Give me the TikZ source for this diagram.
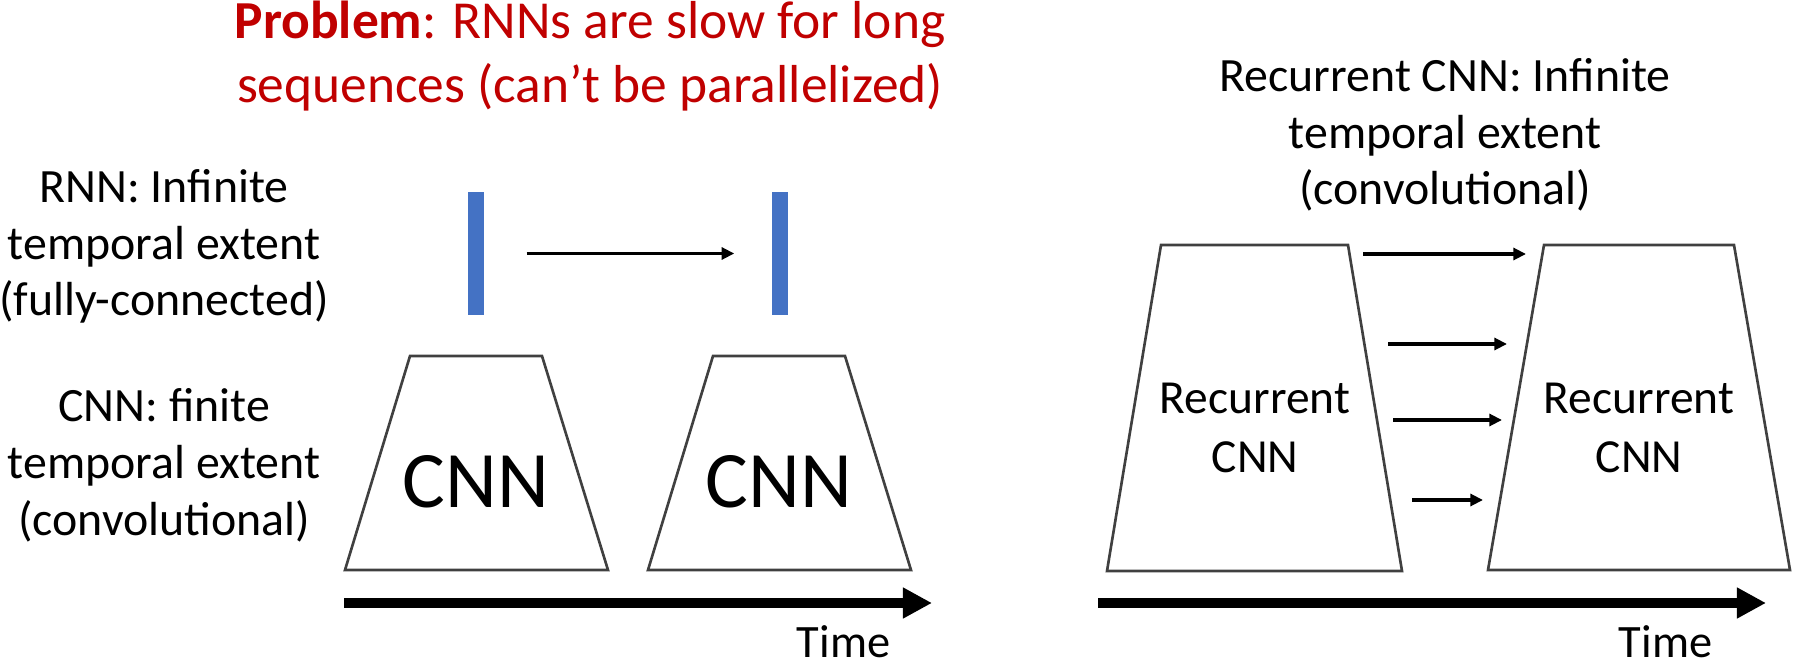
\documentclass[tikz,border=0pt]{standalone}
\usepackage{fontspec}
\setmainfont{Carlito}
\usetikzlibrary{arrows.meta}
\definecolor{probred}{RGB}{192,0,0}
\definecolor{rnnblue}{RGB}{68,114,196}
\definecolor{edgegray}{RGB}{64,64,64}

\begin{document}
\begin{tikzpicture}[x=0.01cm, y=-0.01cm,
  lab/.style={align=center, anchor=base, inner sep=0pt, font=\fontsize{13.6}{16.2}\selectfont},
  block/.style={draw=edgegray, line width=0.75pt, line join=miter},
  bar/.style={fill=rnnblue, minimum width=0.16cm, minimum height=1.23cm, inner sep=0pt},
  flow/.style={line width=1pt, -{Triangle[length=3.6pt, width=3.4pt]}},
  timeline/.style={line width=2.85pt, -{Triangle[length=8.3pt, width=8.3pt]}}]

% canvas in reference pixels, y grows downward
% (multi-line labels are placed by the baseline of their last line)
\useasboundingbox (0,0) rectangle (1793,664);

%% ── left panel: headline ─────────────────────────────────────────
\node[lab, text=probred, font=\fontsize{15.2}{18.2}\selectfont] (problem) at (590,103)
  {\textbf{Problem}: RNNs are slow for long\\sequences (can’t be parallelized)};

%% ── left panel: row labels ───────────────────────────────────────
\node[lab] (rnnlab) at (164,316) {RNN: Infinite\\temporal extent\\(fully-connected)};
\node[lab] (cnnlab) at (164,535) {CNN: finite\\temporal extent\\(convolutional)};

%% ── hidden states + recurrence ───────────────────────────────────
\node[bar] (h1) at (476,253.5) {};
\node[bar] (h2) at (780,253.5) {};
\draw[flow, shorten <=0.42cm, shorten >=0.37cm] (h1.east) -- (h2.west);

%% ── CNN blocks ───────────────────────────────────────────────────
\foreach \dx/\n in {0/1, 303/2}{
  \draw[block] (410+\dx,356) -- (542+\dx,356) -- (608+\dx,570) -- (345+\dx,570) -- cycle;
  \node[lab, font=\fontsize{22.8}{26}\selectfont] (cnn\n) at (476+\dx,507) {CNN};
}

%% ── time axis (left) ─────────────────────────────────────────────
\coordinate (tla) at (344,603);
\coordinate (tlb) at (932,603);
\draw[timeline] (tla) -- (tlb);
\node[lab, font=\fontsize{13.2}{16}\selectfont, anchor=base east] (timel) at (891,657) {Time};

%% ── right panel: label ───────────────────────────────────────────
\node[lab] (rcnnlab) at (1445,205) {Recurrent CNN: Infinite\\temporal extent\\(convolutional)};

%% ── recurrent CNN blocks ─────────────────────────────────────────
\draw[block] (1161,245) -- (1348,245) -- (1402,571) -- (1107,571) -- cycle;
\draw[block] (1544,245) -- (1734,245) -- (1790,570) -- (1488,570) -- cycle;
\node[lab, font=\fontsize{13.5}{16.5}\selectfont] (rc1) at (1255,472) {Recurrent\\CNN};
\node[lab, font=\fontsize{13.5}{16.5}\selectfont] (rc2) at (1639,472) {Recurrent\\CNN};

% layer-to-layer recurrence, shorter further down
\foreach \i/\y/\xa/\xb in {1/254/1363/1526, 2/344/1388/1507, 3/420/1393/1502, 4/500/1412/1483}{
  \coordinate (src\i) at (\xa,\y);
  \coordinate (dst\i) at (\xb,\y);
  \draw[flow] (src\i) -- (dst\i);
}

%% ── time axis (right) ────────────────────────────────────────────
\coordinate (tra) at (1098,603);
\coordinate (trb) at (1766,603);
\draw[timeline] (tra) -- (trb);
\node[lab, font=\fontsize{13.2}{16}\selectfont, anchor=base east] (timer) at (1713,657) {Time};

\end{tikzpicture}
\end{document}
